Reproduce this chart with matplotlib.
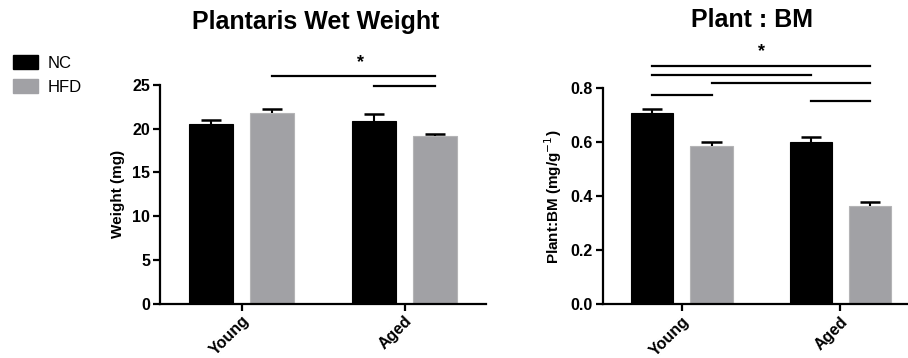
import matplotlib
matplotlib.use("Agg")
import matplotlib.pyplot as plt
import numpy as np
from matplotlib.patches import Patch

plt.rcParams['font.family'] = ['Liberation Sans', 'DejaVu Sans']

groups = ["Young", "Aged"]
series = ["NC", "HFD"]
colors = {"NC": "#000000", "HFD": "#a1a1a5"}

ww_mean = {"NC": [20.5, 20.9], "HFD": [21.8, 19.15]}
ww_err = {"NC": [0.55, 0.75], "HFD": [0.4, 0.25]}
ww_title = "Plantaris Wet Weight"
ww_ylabel = "Weight (mg)"
ww_yticks = [0, 5, 10, 15, 20, 25]

bm_mean = {"NC": [0.710, 0.602], "HFD": [0.586, 0.365]}
bm_err = {"NC": [0.012, 0.016], "HFD": [0.014, 0.013]}
bm_title = "Plant : BM"
bm_ylabel = "Plant:BM (mg/g$^{-1}$)"
bm_yticks = [0.0, 0.2, 0.4, 0.6, 0.8]

# significance bars: (start bar, end bar, y)  bar index: (series, group)
ww_sig = [(("HFD", 0), ("HFD", 1), 26.0), (("NC", 1), ("HFD", 1), 24.9)]
ww_star = (0.73, 27.6)
bm_sig = [(("NC", 0), ("HFD", 1), 0.883), (("NC", 0), ("NC", 1), 0.848),
          (("HFD", 0), ("HFD", 1), 0.818), (("NC", 0), ("HFD", 0), 0.775),
          (("NC", 1), ("HFD", 1), 0.754)]
bm_star = (0.50, 0.935)

W, H = 908, 358
fig = plt.figure(figsize=(W / 100, H / 100), dpi=100)

offset = 0.187
width = 0.267
x = np.arange(len(groups))
offs = {"NC": -offset, "HFD": offset}


def panel(rect, mean, err, title, title_xy, ylabel, yticks, ymax, sig, star, fmt):
    ax = fig.add_axes(rect)
    for s in series:
        xs = x + offs[s]
        ax.bar(xs, mean[s], width=width, color=colors[s],
               edgecolor="#b4b4b6" if s == "HFD" else "black", linewidth=0.8, zorder=2)
        tops = np.array(mean[s]) + np.array(err[s])
        ax.vlines(xs, mean[s], tops, color="black", lw=1.5, zorder=3)
        ax.hlines(tops, xs - width * 0.24, xs + width * 0.24, color="black", lw=1.8, zorder=3)
    ax.set_xlim(-0.5, 1.5)
    ax.set_ylim(0, ymax)
    ax.spines['top'].set_visible(False)
    ax.spines['right'].set_visible(False)
    for sp in ['left', 'bottom']:
        ax.spines[sp].set_linewidth(1.6)
    ax.set_xticks(x)
    ax.set_xticklabels(groups, rotation=45, ha='right', rotation_mode='anchor',
                       fontsize=11.5, fontweight='bold')
    ax.set_yticks(yticks)
    ax.set_yticklabels([fmt.format(v) for v in yticks], fontsize=11.5, fontweight='bold')
    ax.tick_params(width=1.6, length=5, pad=2)
    ax.set_ylabel(ylabel, fontsize=11, fontweight='bold', labelpad=5)
    for (a, b, yy) in sig:
        xa = a[1] + offs[a[0]]
        xb = b[1] + offs[b[0]]
        ax.plot([xa, xb], [yy, yy], color="black", lw=1.6, clip_on=False)
    ax.text(star[0], star[1], "*", ha='center', va='center', fontsize=13,
            fontweight='bold')
    fig.text(title_xy[0] / W, 1 - title_xy[1] / H, title, ha='center', va='center',
             fontsize=18, fontweight='bold')
    return ax


ax1 = panel([160 / W, 1 - 303.5 / H, 326 / W, 218.5 / H], ww_mean, ww_err, ww_title,
            (316, 22), ww_ylabel, ww_yticks, 25, ww_sig, ww_star, "{:g}")

ax2 = panel([602.7 / W, 1 - 304.3 / H, 317 / W, 216 / H], bm_mean, bm_err, bm_title,
            (752, 20), bm_ylabel, bm_yticks, 0.8, bm_sig, bm_star, "{:.1f}")

# legend
handles = [Patch(facecolor=colors[s], edgecolor=colors[s]) for s in series]
fig.legend(handles, series, loc='upper left', bbox_to_anchor=(7 / W, 1 - 49 / H),
           frameon=False, fontsize=12, handlelength=1.5, handleheight=0.9,
           handletextpad=0.6, labelspacing=0.5, borderaxespad=0, borderpad=0.35)

fig.savefig("out.png", dpi=100)
